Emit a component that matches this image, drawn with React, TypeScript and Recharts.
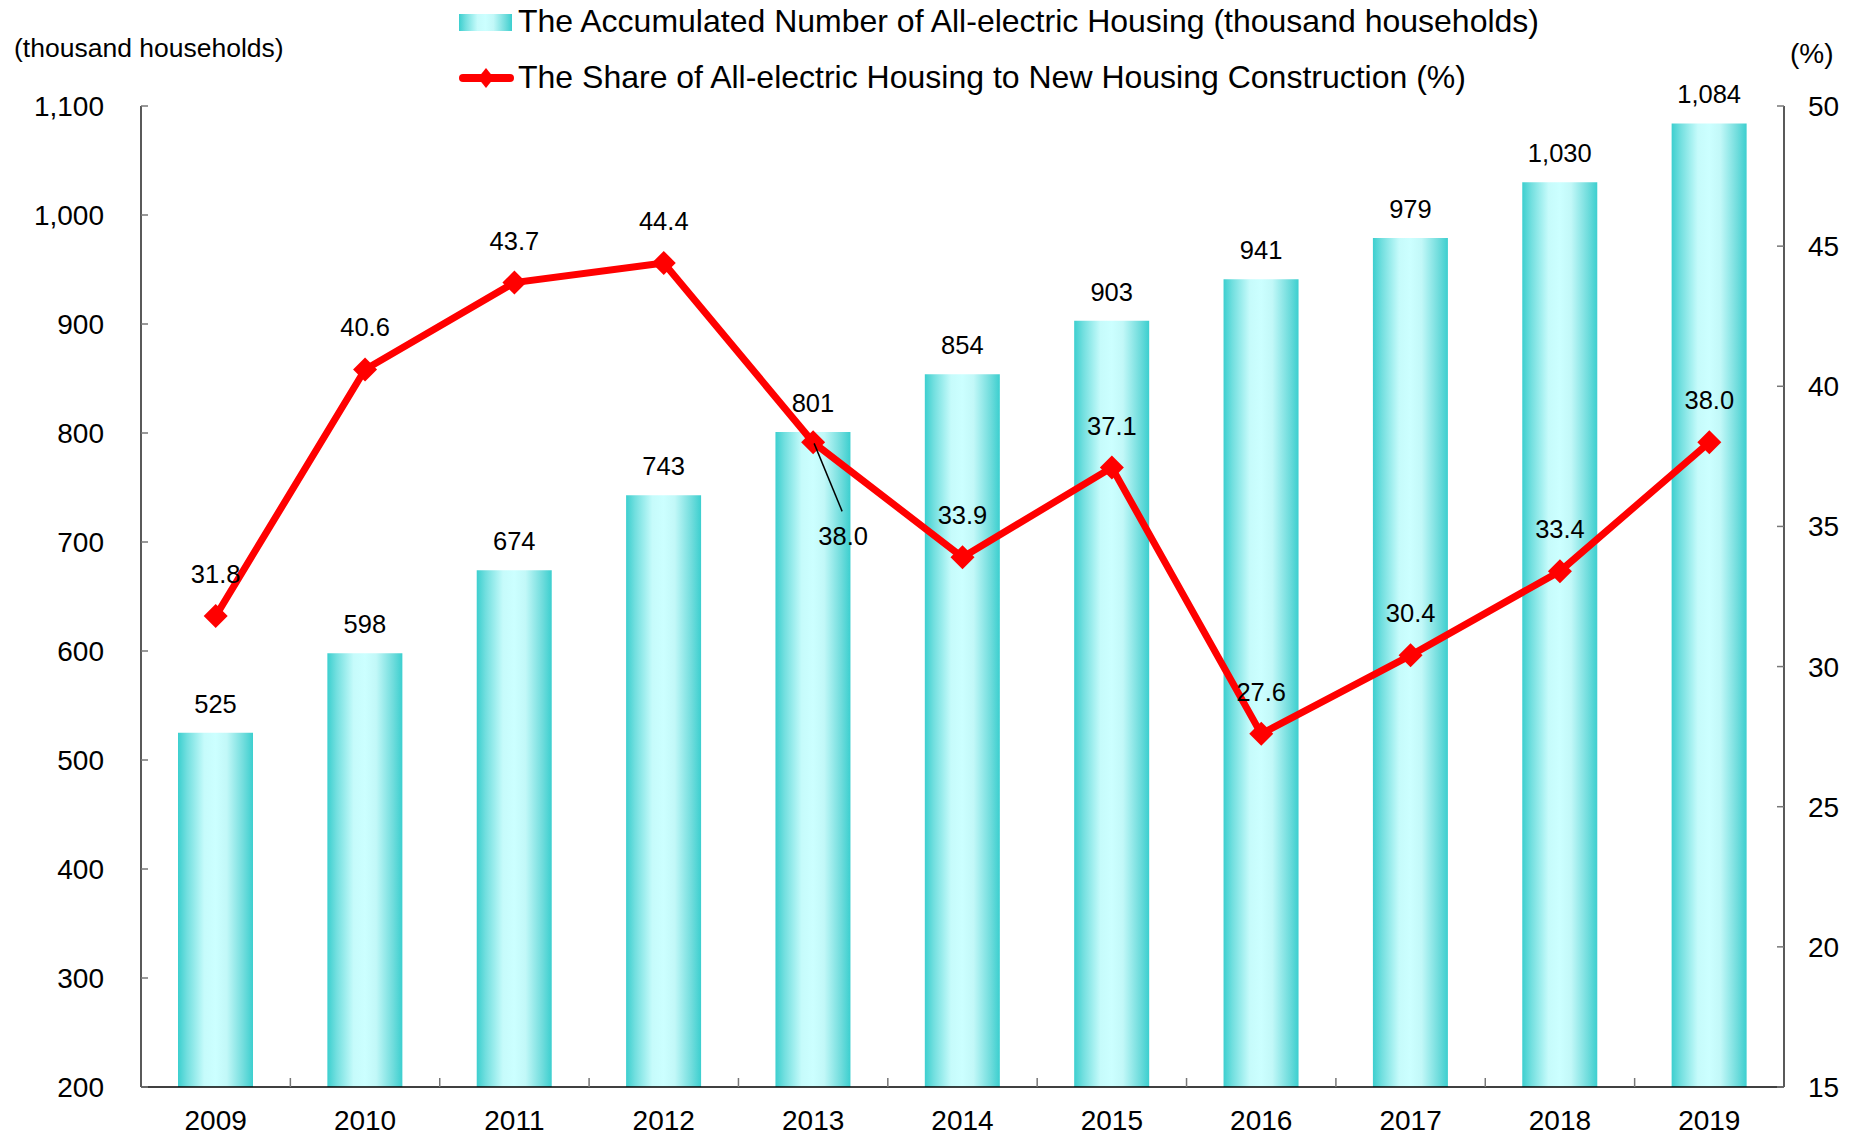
import React from 'react';
import { ComposedChart, Bar, Line, XAxis, YAxis, LabelList } from 'recharts';

const years = ['2009', '2010', '2011', '2012', '2013', '2014', '2015', '2016', '2017', '2018', '2019'];
const accumulated = [525, 598, 674, 743, 801, 854, 903, 941, 979, 1030, 1084];
const share = [31.8, 40.6, 43.7, 44.4, 38.0, 33.9, 37.1, 27.6, 30.4, 33.4, 38.0];
const leftTicks = [200, 300, 400, 500, 600, 700, 800, 900, 1000, 1100];
const rightTicks = [15, 20, 25, 30, 35, 40, 45, 50];
const calloutYears = ['2013'];

const barName = 'The Accumulated Number of All-electric Housing (thousand households)';
const lineName = 'The Share of All-electric Housing to New Housing Construction (%)';
const leftTitle = '(thousand households)';
const rightTitle = '(%)';

const data = years.map((y, i) => ({ year: y, accumulated: accumulated[i], share: share[i] }));

const W = 1838;
const H = 1128;
const PLOT = { left: 133, right: 1776, top: 98, bottom: 1079 };
const FONT = '"Liberation Sans", Arial, Helvetica, sans-serif';
const RED = '#FF0000';

const fmt = (v: number) => v.toLocaleString('en-US');

const XTick = (props: any) => {
  const { x, y, payload, index, visibleTicksCount } = props;
  const half = payload && payload.offset ? payload.offset : (PLOT.right - PLOT.left) / years.length / 2;
  return (
    <g>
      {index < visibleTicksCount - 1 && (
        <line x1={x + half} x2={x + half} y1={y} y2={y - 9} stroke="#777" strokeWidth={1.5} />
      )}
      <text x={x} y={y + 43} textAnchor="middle" fontSize={28} fontFamily={FONT} fill="#000">
        {payload.value}
      </text>
    </g>
  );
};

const LeftTick = (props: any) => {
  const { x, y, payload } = props;
  return (
    <g>
      <line x1={x} x2={x + 7} y1={y} y2={y} stroke="#777" strokeWidth={1.5} />
      <text x={x - 37} y={y + 10} textAnchor="end" fontSize={28} fontFamily={FONT} fill="#000">
        {fmt(payload.value)}
      </text>
    </g>
  );
};

const RightTick = (props: any) => {
  const { x, y, payload } = props;
  return (
    <g>
      <line x1={x} x2={x - 7} y1={y} y2={y} stroke="#777" strokeWidth={1.5} />
      <text x={x + 24} y={y + 10} textAnchor="start" fontSize={28} fontFamily={FONT} fill="#000">
        {payload.value}
      </text>
    </g>
  );
};

const BarLabel = (props: any) => {
  const { x, y, width, value } = props;
  return (
    <text x={x + width / 2} y={y - 20} textAnchor="middle" fontSize={25.5} fontFamily={FONT} fill="#000">
      {fmt(value)}
    </text>
  );
};

const LineLabel = (props: any) => {
  const { x, y, value, index } = props;
  const txt = Number(value).toFixed(1);
  if (calloutYears.includes(years[index])) {
    return (
      <g>
        <line x1={x + 1} y1={y + 1} x2={x + 29} y2={y + 69} stroke="#000" strokeWidth={1.5} />
        <text x={x + 30} y={y + 103} textAnchor="middle" fontSize={25.5} fontFamily={FONT} fill="#000">
          {txt}
        </text>
      </g>
    );
  }
  return (
    <text x={x} y={y - 33} textAnchor="middle" fontSize={25.5} fontFamily={FONT} fill="#000">
      {txt}
    </text>
  );
};

const Diamond = (props: any) => {
  const { cx, cy, index } = props;
  if (cx == null || cy == null) return <g key={`d-${index}`} />;
  const r = 12;
  return (
    <polygon
      key={`d-${index}`}
      points={`${cx},${cy - r} ${cx + r},${cy} ${cx},${cy + r} ${cx - r},${cy}`}
      fill={RED}
      stroke="none"
    />
  );
};

const Grad = ({ id }: { id: string }) => (
  <linearGradient id={id} x1="0" y1="0" x2="1" y2="0">
    <stop offset="0%" stopColor="#3CCFCF" />
    <stop offset="12%" stopColor="#72DFDF" />
    <stop offset="35%" stopColor="#C6FBFB" />
    <stop offset="50%" stopColor="#CCFFFF" />
    <stop offset="65%" stopColor="#C2F8F8" />
    <stop offset="88%" stopColor="#6EDCDC" />
    <stop offset="100%" stopColor="#3CCFCF" />
  </linearGradient>
);

// overlay svg is placed at page origin (covers the body margin), so coords are page coords
export default function App() {
  return (
    <div style={{ position: 'relative', width: W, height: H }}>
      <ComposedChart
        width={W}
        height={H}
        data={data}
        margin={{ top: PLOT.top, right: W - PLOT.right - 60, bottom: H - PLOT.bottom - 30, left: PLOT.left - 60 }}
      >
        <defs>
          <Grad id="barGrad" />
        </defs>
        <XAxis
          dataKey="year"
          height={30}
          tickLine={false}
          tickSize={0}
          tickMargin={0}
          axisLine={{ stroke: '#000', strokeWidth: 1.3 }}
          tick={<XTick />}
          interval={0}
        />
        <YAxis
          yAxisId="left"
          orientation="left"
          width={60}
          domain={[200, 1100]}
          ticks={leftTicks}
          allowDataOverflow
          tickLine={false}
          tickSize={0}
          tickMargin={0}
          axisLine={{ stroke: '#000', strokeWidth: 1.3 }}
          tick={<LeftTick />}
          interval={0}
        />
        <YAxis
          yAxisId="right"
          orientation="right"
          width={60}
          domain={[15, 50]}
          ticks={rightTicks}
          allowDataOverflow
          tickLine={false}
          tickSize={0}
          tickMargin={0}
          axisLine={{ stroke: '#000', strokeWidth: 1.3 }}
          tick={<RightTick />}
          interval={0}
        />
        <Bar yAxisId="left" dataKey="accumulated" barSize={75} fill="url(#barGrad)" isAnimationActive={false}>
          <LabelList dataKey="accumulated" content={<BarLabel />} />
        </Bar>
        <Line
          yAxisId="right"
          dataKey="share"
          stroke={RED}
          strokeWidth={7}
          dot={Diamond}
          activeDot={false}
          isAnimationActive={false}
        >
          <LabelList dataKey="share" content={<LineLabel />} />
        </Line>
      </ComposedChart>
      <svg
        width={W + 8}
        height={140}
        style={{ position: 'absolute', left: -8, top: -8, pointerEvents: 'none', overflow: 'visible' }}
      >
        <defs>
          <Grad id="legendGrad" />
        </defs>
        <rect x={459} y={14} width={53} height={17} fill="url(#legendGrad)" />
        <text x={518} y={32} fontSize={32} fontFamily={FONT} fill="#000">{barName}</text>
        <line x1={463} x2={510} y1={78} y2={78} stroke={RED} strokeWidth={8} strokeLinecap="round" />
        <polygon points="486,68 494,78 486,88 478,78" fill={RED} />
        <text x={518} y={88} fontSize={32} fontFamily={FONT} fill="#000">{lineName}</text>
        <text x={14} y={57} fontSize={26.5} fontFamily={FONT} fill="#000">{leftTitle}</text>
        <text x={1790} y={63} fontSize={28} fontFamily={FONT} fill="#000">{rightTitle}</text>
      </svg>
    </div>
  );
}
